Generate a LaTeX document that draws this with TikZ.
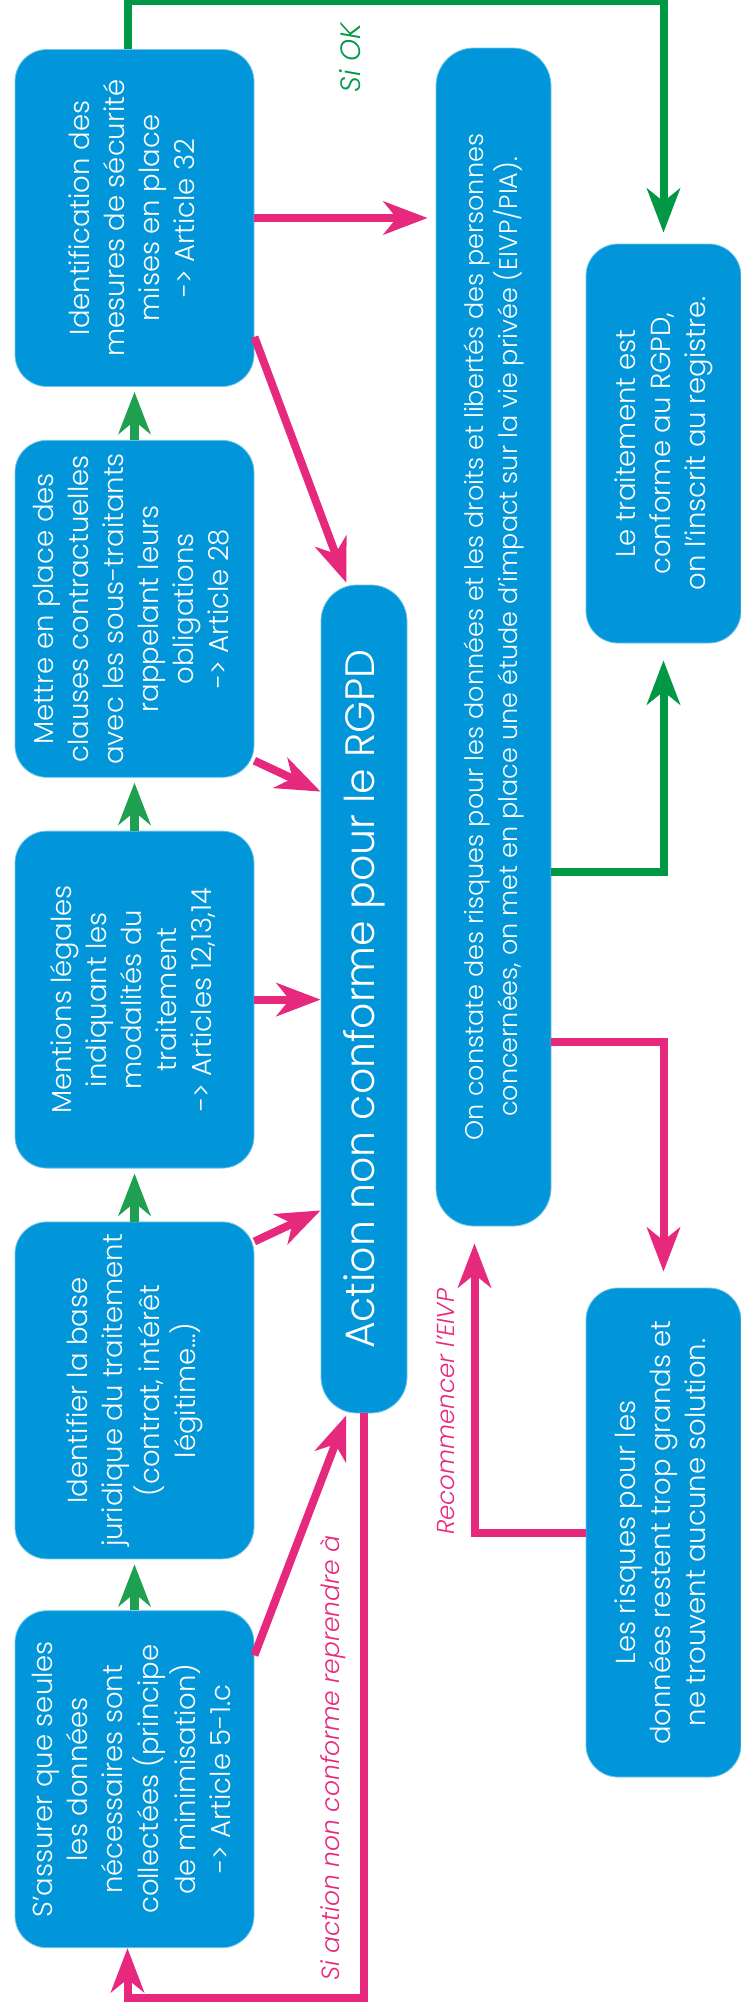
\documentclass[tikz,border=0pt]{standalone}
\usepackage{fontspec}
\setmainfont{Poppins}[UprightFont=* Light, ItalicFont=* Light Italic]
\usepackage{graphicx}
\usetikzlibrary{arrows.meta,positioning}

\definecolor{boxblue}{RGB}{0,150,217}
\definecolor{nopink}{RGB}{230,41,125}
\definecolor{okgreen}{RGB}{0,152,68}
\definecolor{stepgreen}{RGB}{30,160,80}

\newcommand{\vlines}[1]{\rotatebox{90}{\begin{tabular}{@{}c@{}}#1\end{tabular}}}

\tikzset{
  etape/.style={rectangle, rounded corners=32pt, fill=boxblue, draw=boxblue!55!white,
    line width=0.8pt, text=white, inner sep=0pt,
    minimum width=239pt, minimum height=337pt, font=\fontsize{27.5}{35}\selectfont},
  suite/.style={-{Stealth[length=42pt,width=32pt,inset=13pt]}, line width=9pt, stepgreen},
  ok/.style={-{Stealth[length=44pt,width=33pt,inset=13pt]}, line width=8pt, okgreen},
  nok/.style={-{Stealth[length=44pt,width=33pt,inset=13pt]}, line width=8pt, nopink},
  remarque/.style={font=\fontsize{25}{29}\selectfont\itshape, inner sep=0pt}
}

\begin{document}
\begin{tikzpicture}[x=1pt, y=-1pt]
    \useasboundingbox (0,0) rectangle (741,2016);

    % left column, bottom to top steps
    \node[etape] (mesures) at (134.5,218) {\vlines{Identification des\\mesures de sécurité\\mises en place\\-> Article 32}};
    \node[etape, below=53pt of mesures] (clauses) {\vlines{Mettre en place des\\clauses  contractuelles\\avec les sous-traitants\\rappelant leurs\\obligations\\-> Article 28}};
    \node[etape, below=53pt of clauses] (mentions) {\vlines{Mentions légales\\indiquant  les\\modalités du\\traitement\\->  Articles 12,13,14}};
    \node[etape, below=53pt of mentions] (base) {\vlines{Identifier la base\\juridique du traitement\\(contrat, intérêt\\légitime…)}};
    \node[etape, below=51pt of base] (minimis) {\vlines{S'assurer que seules\\les données\\nécessaires sont\\collectées (principe\\de minimisation)\\-> Article 5-1.c}};

    \node[etape, minimum width=86pt, minimum height=828pt, rounded corners=36pt,
        font=\fontsize{41}{48}\selectfont] (nonconf) at (364,999)
        {\rotatebox{90}{Action non conforme pour le RGPD}};
    \node[etape, minimum width=115pt, minimum height=1178pt, rounded corners=38pt,
        font=\fontsize{25.5}{33}\selectfont] (constate) at (493.5,637)
        {\vlines{On constate des risques pour les données et les droits et libertés des personnes\\concernées, on met en place une étude d'impact sur la vie privée (EIVP/PIA).}};
    \node[etape, minimum width=155pt, minimum height=399pt, font=\fontsize{27.5}{35}\selectfont] (conforme) at (663.5,443.5)
        {\vlines{Le traitement est\\conforme au RGPD,\\on l'inscrit au registre.}};
    \node[etape, minimum width=155pt, minimum height=489pt, font=\fontsize{27.5}{35}\selectfont] (risques) at (663.5,1532.5)
        {\vlines{Les risques pour les\\données restent trop grands et\\ne trouvent aucune solution.}};

    \coordinate (haut) at (0,1);
    \coordinate (bas) at (0,1998);

    % green steps
    \draw[suite, shorten >=5pt] (minimis) -- (base);
    \draw[suite, shorten >=5pt] (base) -- (mentions);
    \draw[suite, shorten >=5pt] (mentions) -- (clauses);
    \draw[suite, shorten >=5pt] (clauses) -- (mesures);
    \draw[ok] ([xshift=-7pt]mesures.north) -- ([xshift=-7pt]mesures.north |- haut)
        -| ([yshift=11pt]conforme.north);
    \draw[ok] ([yshift=-235pt]constate.east) -| ([yshift=-17pt]conforme.south);
    \node[remarque, text=okgreen, rotate=90, font=\fontsize{28}{32}\selectfont\itshape] (siok) at (350,58) {Si OK};

    % pink
    \draw[nok, shorten >=8pt] (mesures.east) -- (mesures.east -| constate.west);
    \draw[nok, shorten >=2pt] ([yshift=50pt]mesures.south east) -- ([xshift=-17pt]nonconf.north);
    \draw[nok] ([yshift=17pt]clauses.south east) -- ([yshift=-207pt]nonconf.north west);
    \draw[nok] (mentions.east) -- (mentions.east -| nonconf.west);
    \draw[nok] ([yshift=-20pt]base.north east) -- ([yshift=203pt]nonconf.south west);
    \draw[nok, shorten >=2pt] ([yshift=-45pt]minimis.north east) -- ([xshift=-17pt]nonconf.south);
    \draw[nok] (nonconf.south) -- (nonconf.south |- bas) -| ([xshift=-7pt]minimis.south);
    \draw[nok] ([yshift=-405pt]constate.east) -| ([yshift=16pt]risques.north);
    \draw[nok] (risques.west) -| ([xshift=-19pt, yshift=-17pt]constate.south);
    \node[remarque, text=nopink, rotate=90] (reprise) at (333,1758) {Si action non conforme reprendre à};
    \node[remarque, text=nopink, rotate=90, font=\fontsize{24.5}{28}\selectfont\itshape] (recommence) at (446,1412) {Recommencer l'EIVP};
\end{tikzpicture}
\end{document}
